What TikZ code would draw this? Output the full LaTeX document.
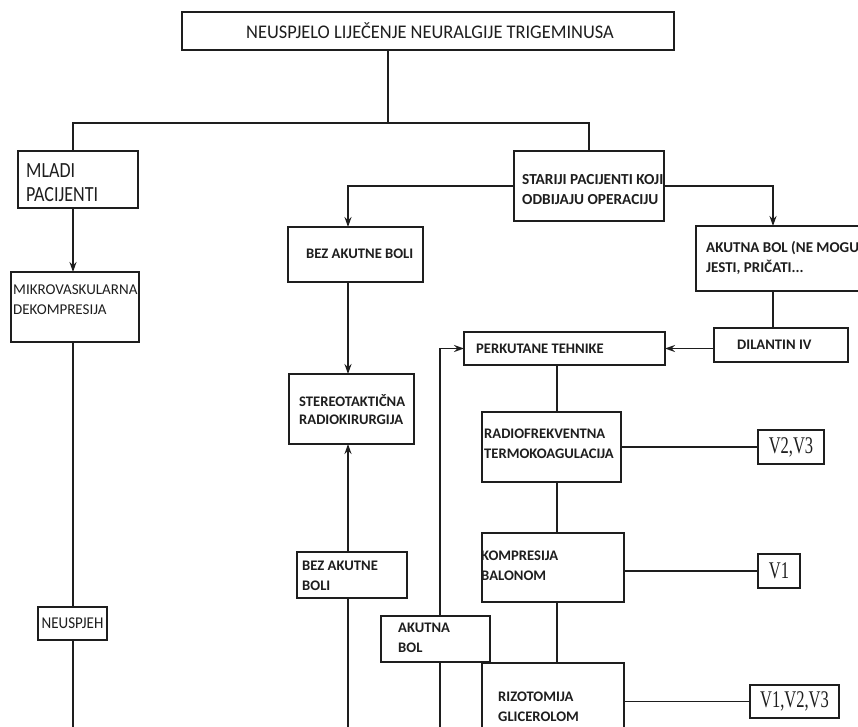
\documentclass[tikz,border=0pt]{standalone}
\usepackage{fontspec}
\usepackage{graphicx}
\setmainfont{Carlito}
\newfontfamily\tnr{Liberation Serif}
\usetikzlibrary{arrows.meta}
\definecolor{ink}{HTML}{1E1E1E}
\newcommand\boxnode[5]{\node[bx, minimum width={(#4-#2)*1pt}, minimum height={(#5-#3)*1pt}] (#1) at ({(#2+#4)/2},{(#3+#5)/2}) {};}
\tikzset{
  bx/.style={draw=ink, line width=1.8pt, inner sep=0pt, outer sep=0pt},
  ln/.style={draw=ink, line width=1.6pt},
  arr/.style={ln, -{Stealth[length=10pt,width=7pt]}},
  rg/.style={font=\fontsize{15}{20}\selectfont, align=left, inner sep=0pt, text=ink},
  bd/.style={font=\fontsize{14.6}{20}\bfseries\selectfont, align=left, inner sep=0pt, text=ink},
  vs/.style={font=\fontsize{16.5}{20}\tnr, inner sep=0pt, text=ink}
}
\begin{document}
\begin{tikzpicture}[x=1pt,y=-1pt]
\useasboundingbox (0,0) rectangle (858,726);
\clip (0,0) rectangle (858,726);
\fill[white] (0,0) rectangle (858,726);
% boxes
\boxnode{top}{182}{12}{674}{50}
\boxnode{mladi}{18}{151}{138}{208}
\boxnode{starij}{514}{151}{664}{221}
\boxnode{bez1}{288}{227}{423}{282}
\boxnode{akut1}{696}{226}{872}{291}
\boxnode{mikro}{11}{272}{139}{342}
\boxnode{dil}{714}{328}{848}{362}
\boxnode{perk}{464}{332}{665}{365}
\boxnode{stereo}{289}{374}{414}{444}
\boxnode{radio}{482}{412}{621}{482}
\boxnode{v23}{758}{430}{824}{464}
\boxnode{komp}{482}{533}{624}{602}
\boxnode{v1}{758}{554}{800}{588}
\boxnode{bez2}{297}{552}{407}{598}
\boxnode{neus}{38}{607}{107}{640}
\boxnode{akut2}{381}{616}{490}{662}
\boxnode{rizo}{482}{663}{624}{745}
\boxnode{v123}{750}{685}{839}{718}
% texts
\node[rg, font=\fontsize{18.4}{20}\selectfont] (ttop) at (430,31) {\scalebox{1}[1.05]{NEUSPJELO LIJEČENJE NEURALGIJE TRIGEMINUSA}};
\node[rg, font=\fontsize{18}{20}\selectfont, anchor=west] (tmladi) at (26,185) {\scalebox{1}[1.2]{\begin{tabular}{@{}l@{}}MLADI\\PACIJENTI\end{tabular}}};
\node[bd, font=\fontsize{15.3}{20}\bfseries\selectfont, anchor=west] (tstarij) at (522,190) {STARIJI PACIJENTI KOJI\\ODBIJAJU OPERACIJU};
\node[bd, anchor=west] (tbez1) at (306,254) {BEZ AKUTNE BOLI};
\node[bd, font=\fontsize{15}{20}\bfseries\selectfont, anchor=west] (takut1) at (706,258) {AKUTNA BOL (NE MOGU\\JESTI, PRIČATI...};
\node[rg, anchor=west] (tmikro) at (13,299.5) {MIKROVASKULARNA\\DEKOMPRESIJA};
\node[bd, anchor=west] (tdil) at (737,345) {DILANTIN IV};
\node[bd, anchor=west] (tperk) at (476,349) {PERKUTANE TEHNIKE};
\node[bd, font=\fontsize{14.6}{18.5}\bfseries\selectfont, anchor=west] (tstereo) at (299,409.5) {STEREOTAKTIČNA\\RADIOKIRURGIJA};
\node[bd, anchor=west] (tradio) at (484,444) {RADIOFREKVENTNA\\TERMOKOAGULACIJA};
\node[bd, anchor=west] (tkomp) at (481,566) {KOMPRESIJA\\BALONOM};
\node[bd, anchor=west] (tbez2) at (302,576) {BEZ AKUTNE\\BOLI};
\node[rg] (tneus) at (neus) {\scalebox{1}[1.1]{NEUSPJEH}};
\node[bd, anchor=west] (takut2) at (398,638) {AKUTNA\\BOL};
\node[bd, anchor=west] (trizo) at (498,706.5) {RIZOTOMIJA\\GLICEROLOM};
\node[vs] (tv23) at (v23) {\scalebox{1}[1.45]{V2,V3}};
\node[vs] (tv1) at (v1) {\scalebox{1}[1.45]{V1}};
\node[vs] (tv123) at (v123) {\scalebox{1}[1.45]{V1,V2,V3}};
% column coordinates
\coordinate (xA) at (73,0);
\coordinate (xB) at (348,0);
\coordinate (xC) at (440,0);
\coordinate (xD) at (557,0);
\coordinate (xE) at (773,0);
\coordinate (xT) at (388,0);
\coordinate (yH) at (0,123);
\coordinate (bot) at (0,730);
% connectors
\draw[ln] (top.south -| xT) -- (xT |- yH) coordinate (j);
\draw[ln] (mladi.north -| xA) |- (j) -| (starij.north);
\draw[arr] (mladi.south -| xA) -- (mikro.north -| xA);
\draw[ln] (mikro.south -| xA) -- (neus.north -| xA);
\draw[ln] (neus.south -| xA) -- (xA |- bot);
\draw[arr] (starij.west) -| (bez1.north -| xB);
\draw[arr] (starij.east) -| (akut1.north -| xE);
\draw[arr] (bez1.south -| xB) -- (stereo.north -| xB);
\draw[arr] (bez2.north -| xB) -- (stereo.south -| xB);
\draw[ln] (bez2.south -| xB) -- (xB |- bot);
\draw[ln] (akut1.south -| xE) -- (dil.north -| xE);
\draw[arr] (dil.west |- perk.east) -- (perk.east);
\draw[arr] (akut2.north -| xC) |- (perk.west);
\draw[ln] (akut2.south -| xC) -- (xC |- bot);
\draw[ln] (perk.south -| xD) -- (radio.north -| xD);
\draw[ln] (radio.east) -- (v23.west);
\draw[ln] (radio.south -| xD) -- (komp.north -| xD);
\draw[ln] (komp.east |- v1.west) -- (v1.west);
\draw[ln] (komp.south -| xD) -- (rizo.north -| xD);
\draw[ln] (rizo.east |- v123.west) -- (v123.west);
\end{tikzpicture}
\end{document}
